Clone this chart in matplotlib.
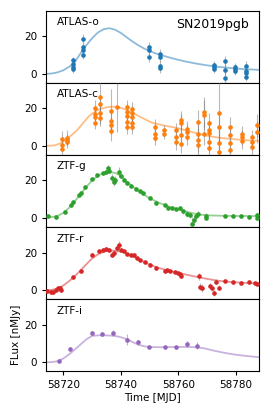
import numpy as np
import matplotlib.pyplot as plt

# ---- ATLAS-o ----
ao_t = [58723.5, 58723.5, 58723.5, 58723.5, 58726.9, 58726.9, 58726.9, 58726.9,
        58749.8, 58749.8, 58749.8, 58753.6, 58753.6, 58753.6, 58753.6,
        58772.3, 58772.3, 58772.3, 58776.1, 58776.1, 58776.1,
        58779.8, 58779.8, 58779.8, 58783.6, 58783.6, 58783.6, 58783.6]
ao_f = [7.3, 5.5, 3.7, 2.8, 18.6, 14.1, 12.7, 10.3,
        14.3, 12.5, 8.9, 10.7, 8.9, 4.4, 3.0,
        5.0, 3.9, 2.7, 6.7, 2.3, -2.0,
        3.9, 2.7, 1.4, 4.5, 1.7, 0.3, -1.4]
ao_e = [2, 2, 2, 2, 2.5, 2.5, 2.5, 2.5,
        2.5, 2.5, 2.5, 2.5, 2.5, 2.5, 2.5,
        2, 2, 2, 3, 3, 3,
        2, 2, 2, 2.5, 2.5, 2.5, 2.5]
ao_mt = [58714, 58716, 58718, 58720, 58722, 58724, 58726, 58728, 58730, 58732, 58734,
         58736, 58738, 58740, 58742, 58744, 58746, 58748, 58750, 58752, 58754, 58758,
         58762, 58766, 58770, 58774, 58778, 58782, 58788]
ao_mf = [0.1, 0.3, 0.9, 2.0, 3.8, 6.3, 11.0, 15.3, 19.0, 22.0, 23.8,
         24.3, 23.5, 21.8, 19.5, 17.3, 15.3, 13.6, 12.2, 11.0, 10.0, 8.3,
         6.8, 5.6, 4.6, 3.8, 3.2, 2.7, 2.2]

# ---- ATLAS-c ----
ac_t = [58719.7, 58719.7, 58719.7, 58721.4, 58721.4, 58721.4,
        58731.0, 58731.0, 58731.0, 58731.0, 58732.7, 58732.7, 58732.7, 58732.7,
        58736.5, 58736.5, 58736.5, 58736.5, 58738.5,
        58742.2, 58742.2, 58742.2, 58742.2, 58742.2,
        58743.9, 58743.9, 58743.9, 58743.9, 58743.9,
        58751.7, 58751.7, 58751.7, 58755.1, 58755.1,
        58759.2, 58759.2, 58759.2, 58761.0, 58761.0, 58761.0, 58761.0,
        58762.9, 58762.9, 58762.9, 58766.7, 58766.7, 58766.7, 58766.7,
        58768.7, 58768.7, 58768.7, 58770.5, 58770.5, 58770.5, 58770.5, 58770.5,
        58774.2, 58774.2, 58774.2, 58774.2, 58777.9, 58777.9, 58777.9, 58777.9,
        58781.9, 58781.9, 58781.9, 58785.4, 58785.4, 58785.4, 58787.2, 58787.2]
ac_f = [4.0, 0.8, -1.5, 4.5, 3.4, 2.1,
        20.2, 17.0, 15.2, 12.3, 25.9, 22.2, 17.4, 14.7,
        18.5, 13.5, 11.0, 7.8, 20.6,
        20.6, 18.2, 15.9, 12.8, 10.2,
        19.5, 17.4, 15.2, 12.3, 10.2,
        10.2, 6.6, 4.5, 8.4, 6.6,
        8.4, 4.8, 2.1, 13.8, 12.0, 5.7, 1.3,
        9.3, 7.5, 4.8, 12.9, 6.6, 3.1, 0.4,
        18.2, 16.4, 6.6, 12.3, 8.8, 7.0, 2.1, -1.1,
        17.4, 10.2, 1.6, -3.2, 10.2, 5.7, 1.6, -1.9,
        6.6, 4.8, 2.7, 4.8, 2.1, -0.5, 11.1, 7.5]
ac_e = [4, 3, 3, 4, 3, 3,
        4, 4, 3, 3, 14, 5, 4, 4,
        12, 5, 4, 5, 13,
        4, 4, 4, 4, 4,
        4, 4, 4, 4, 4,
        4, 4, 4, 3, 3,
        4, 4, 4, 5, 5, 5, 5,
        4, 4, 4, 6, 6, 6, 6,
        8, 8, 6, 5, 5, 5, 5, 5,
        20, 8, 8, 8, 5, 5, 5, 5,
        4, 4, 4, 4, 4, 4, 6, 6]
ac_mt = [58714, 58717, 58719, 58721, 58723, 58725, 58727, 58729, 58731, 58733, 58735,
         58737, 58739, 58741, 58743, 58745, 58748, 58751, 58755, 58759, 58763, 58767,
         58771, 58775, 58779, 58783, 58788]
ac_mf = [0.1, 0.4, 1.5, 3.5, 6.0, 8.8, 12.5, 16.0, 18.3, 19.8, 20.6,
         20.9, 20.7, 19.8, 18.4, 16.9, 14.5, 12.3, 10.9, 9.8, 8.2, 6.5,
         5.2, 4.3, 3.7, 3.2, 2.8]

# ---- ZTF-g ----
zg_t = [58714.7, 58717.6, 58720.5, 58722.6, 58723.5, 58725.4, 58726.2, 58727.7,
        58730.0, 58731.6, 58733.8, 58734.7, 58735.6, 58735.8, 58736.9, 58737.5,
        58738.1, 58739.3, 58740.1, 58741.0, 58742.2, 58743.5, 58745.1, 58746.8,
        58747.7, 58750.0, 58752.3, 58755.2, 58756.3, 58757.9, 58759.0, 58760.7,
        58761.5, 58762.9, 58763.9, 58764.7, 58765.4, 58766.2, 58766.7, 58769.4,
        58769.4, 58776.0, 58778.8, 58781.7, 58784.4, 58787.2, 58787.2]
zg_f = [1.1, 0.5, 3.2, 6.8, 8.6, 12.5, 13.6, 16.6,
        20.7, 22.9, 23.7, 24.3, 26.8, 25.0, 21.4, 19.3,
        20.2, 24.6, 22.5, 20.2, 18.4, 17.1, 15.7, 14.3,
        13.6, 10.7, 8.0, 6.8, 5.5, 5.4, 5.0, 5.4,
        3.6, 2.3, 1.8, -3.0, -1.2, 1.1, 2.3, 1.4,
        0.3, 1.4, 1.4, 1.4, 0.5, 1.8, 0.3]
zg_e = [0.6, 0.6, 0.6, 0.6, 0.6, 0.6, 0.6, 0.6,
        0.6, 0.6, 0.6, 0.6, 1.2, 0.8, 2.0, 2.0,
        2.0, 2.5, 1.0, 0.8, 0.6, 0.6, 0.6, 0.6,
        0.6, 0.6, 0.6, 0.6, 0.6, 0.6, 0.6, 0.6,
        1.5, 1.5, 1.5, 3.5, 2.5, 1.5, 1.5, 1.2,
        1.2, 0.6, 0.6, 0.6, 0.6, 0.8, 0.8]
zg_mt = [58714, 58716, 58718, 58720, 58722, 58724, 58726, 58728, 58730, 58732, 58734,
         58736, 58738, 58740, 58742, 58744, 58746, 58748, 58750, 58753, 58756, 58759,
         58762, 58765, 58768, 58772, 58778, 58788]
zg_mf = [0.5, 0.6, 1.2, 2.8, 5.5, 9.0, 12.8, 16.6, 20.0, 22.5, 24.0,
         24.5, 24.0, 22.5, 19.5, 16.8, 14.6, 12.5, 10.6, 8.3, 6.5, 5.1,
         3.8, 2.6, 1.8, 1.4, 1.2, 1.1]

# ---- ZTF-r ----
zr_t = [58714.5, 58715.6, 58716.5, 58717.4, 58718.2, 58718.9, 58719.2,
        58723.5, 58726.0, 58730.0, 58732.4, 58733.8, 58734.7, 58735.8, 58736.9,
        58737.5, 58738.5, 58739.3, 58739.9, 58741.0, 58742.2, 58743.5, 58744.5,
        58745.6, 58746.8, 58748.5, 58750.0, 58752.3, 58755.2, 58756.0, 58757.2,
        58758.7, 58759.8, 58760.7, 58761.0, 58767.3, 58767.5, 58768.2, 58771.1,
        58771.7, 58772.3, 58773.1, 58774.0, 58776.0, 58778.8, 58781.7, 58784.4,
        58786.7, 58787.4]
zr_f = [-0.4, -0.7, -1.1, 0.2, 1.1, 1.4, 0.2,
        6.8, 10.3, 18.9, 20.7, 21.6, 22.1, 21.6, 18.9,
        19.8, 22.5, 23.9, 21.6, 20.7, 19.3, 18.9, 18.5,
        17.1, 16.2, 15.0, 13.6, 11.8, 10.0, 10.5, 10.3,
        9.6, 9.1, 8.6, 7.3, 7.3, 1.9, 1.1, 2.3,
        1.1, -1.3, 4.6, 1.4, 5.0, 4.3, 4.1, 4.3,
        3.7, 3.2]
zr_e = [0.6, 0.6, 0.6, 0.6, 0.6, 0.6, 0.6,
        0.6, 0.6, 0.6, 0.6, 0.6, 0.6, 0.6, 1.5,
        1.5, 2.0, 2.0, 1.0, 0.6, 0.6, 0.6, 0.6,
        0.6, 0.6, 0.6, 0.6, 0.6, 0.6, 0.6, 0.6,
        0.6, 0.6, 0.6, 0.8, 2.0, 2.0, 2.0, 1.5,
        1.5, 1.5, 1.5, 1.5, 0.6, 0.6, 0.6, 0.6,
        0.6, 0.6]
zr_mt = [58714, 58716, 58718, 58720, 58722, 58724, 58726, 58728, 58730, 58732, 58734,
         58736, 58738, 58740, 58742, 58744, 58746, 58748, 58750, 58753, 58756, 58759,
         58762, 58766, 58770, 58774, 58778, 58782, 58788]
zr_mf = [0.0, 0.2, 0.9, 2.5, 4.8, 7.5, 10.5, 13.8, 16.8, 19.0, 20.4,
         21.0, 21.0, 20.5, 19.5, 18.1, 16.6, 15.0, 13.6, 11.9, 10.6, 9.5,
         8.5, 7.2, 6.0, 5.0, 4.4, 4.0, 3.6]

# ---- ZTF-i ----
zi_t = [58718.5, 58722.3, 58729.8, 58733.6, 58737.3, 58742.1, 58746.0,
        58749.7, 58755.2, 58759.0, 58762.8, 58766.5]
zi_f = [0.8, 7.2, 15.5, 15.0, 15.5, 12.0, 10.6, 7.9, 8.0, 8.0, 9.6, 8.9]
zi_e = [0.8, 0.8, 1.2, 1.2, 1.5, 3.0, 1.2, 0.8, 0.8, 0.8, 1.5, 2.0]
zi_mt = [58714, 58716, 58718, 58720, 58722, 58724, 58726, 58728, 58730, 58732, 58734,
         58736, 58738, 58740, 58742, 58744, 58746, 58748, 58750, 58754, 58758, 58762,
         58766, 58769, 58772, 58776, 58780, 58784, 58788]
zi_mf = [0.0, 0.1, 0.6, 2.0, 4.2, 6.8, 9.5, 12.2, 14.0, 14.3, 14.3,
         14.2, 14.0, 13.3, 12.3, 10.8, 9.4, 8.5, 8.1, 8.0, 8.1, 8.2,
         8.0, 7.4, 6.3, 5.0, 4.0, 3.3, 2.7]

bands = ['ATLAS-o', 'ATLAS-c', 'ZTF-g', 'ZTF-r', 'ZTF-i']
colors = ['tab:blue', 'tab:orange', 'tab:green', 'tab:red', 'tab:purple']
data = [(ao_t, ao_f, ao_e, ao_mt, ao_mf),
        (ac_t, ac_f, ac_e, ac_mt, ac_mf),
        (zg_t, zg_f, zg_e, zg_mt, zg_mf),
        (zr_t, zr_f, zr_e, zr_mt, zr_mf),
        (zi_t, zi_f, zi_e, zi_mt, zi_mf)]

fig, axes = plt.subplots(5, 1, sharex=True, sharey=True, figsize=(2.66, 4.18), dpi=100)
fig.subplots_adjust(left=0.173, right=0.974, top=0.974, bottom=0.112, hspace=0)

for ax, band, c, (t, f, e, mt, mf) in zip(axes, bands, colors, data):
    ax.plot(mt, mf, color=c, alpha=0.5, lw=1.3, zorder=1)
    ax.errorbar(t, f, yerr=e, fmt='o', ms=2.3, color=c, ecolor=(0.5, 0.5, 0.5, 0.55),
                elinewidth=0.8, zorder=3)
    ax.text(0.05, 0.91, band, transform=ax.transAxes, ha='left', va='top', fontsize=7.5)
    ax.tick_params(labelsize=7.5, length=3, width=0.8)

axes[0].text(0.95, 0.9, 'SN2019pgb', transform=axes[0].transAxes, ha='right', va='top',
             fontsize=9)
axes[0].set_ylim(-4.7, 33.5)
axes[0].set_yticks([0, 20])
axes[0].set_xlim(58714, 58788)
axes[0].set_xticks([58720, 58740, 58760, 58780])
axes[0].get_xaxis().get_major_formatter().set_useOffset(False)
axes[4].set_xlabel('Time [MJD]', fontsize=7.5, labelpad=2)
axes[4].set_ylabel('FLux [nMJy]', fontsize=7.5, labelpad=2)

plt.savefig('out.png', dpi=100)
